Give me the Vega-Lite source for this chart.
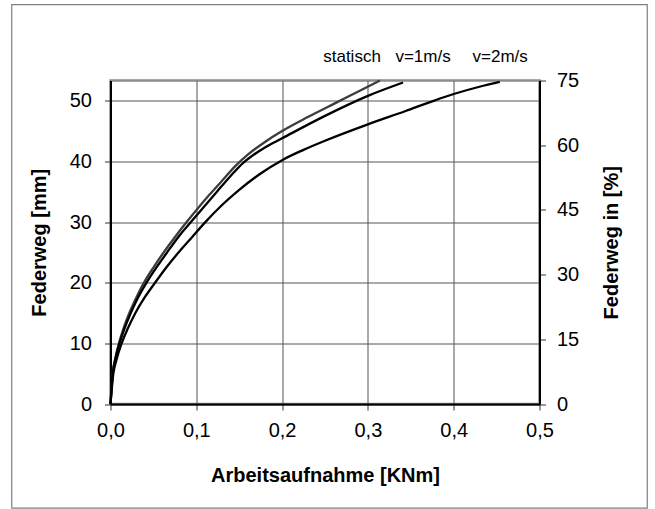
{
  "$schema": "https://vega.github.io/schema/vega-lite/v6.json",
  "autosize": {"type": "none"},
  "width": 429,
  "height": 323.5,
  "padding": {"left": 110.5, "top": 80.5, "right": 115.5, "bottom": 105},
  "background": "white",
  "config": {
    "font": "Liberation Sans",
    "view": {"stroke": "#8c8c8c", "strokeWidth": 2.5},
    "axis": {
      "labelFont": "Liberation Sans",
      "titleFont": "Liberation Sans",
      "labelFontSize": 20,
      "titleFontSize": 20,
      "labelColor": "black",
      "titleColor": "black",
      "titleFontWeight": "bold",
      "domainColor": "black",
      "domainWidth": 2,
      "tickColor": "#333333",
      "tickSize": 6,
      "tickWidth": 1,
      "gridColor": "#555555",
      "gridWidth": 1,
      "gridOpacity": 1,
      "labelFlush": false
    }
  },
  "layer": [
    {
      "layer": [
        {
          "data": {"values": [{"frame": "border"}]},
          "mark": {"type": "rect", "fill": null, "stroke": "#808080", "strokeWidth": 1.2, "clip": false},
          "encoding": {
            "x": {"datum": -0.1151, "type": "quantitative"},
            "x2": {"datum": 0.6256},
            "y": {"datum": 65.84, "type": "quantitative"},
            "y2": {"datum": -17.16}
          }
        },
        {
          "data": {"values": [
            {"Serie": "statisch", "x": 0, "y": 0},
            {"Serie": "statisch", "x": 0.0025, "y": 5},
            {"Serie": "statisch", "x": 0.006, "y": 7.8},
            {"Serie": "statisch", "x": 0.01, "y": 10.1},
            {"Serie": "statisch", "x": 0.015, "y": 12.4},
            {"Serie": "statisch", "x": 0.022, "y": 15},
            {"Serie": "statisch", "x": 0.03, "y": 17.5},
            {"Serie": "statisch", "x": 0.039, "y": 20},
            {"Serie": "statisch", "x": 0.05, "y": 22.5},
            {"Serie": "statisch", "x": 0.062, "y": 25},
            {"Serie": "statisch", "x": 0.075, "y": 27.5},
            {"Serie": "statisch", "x": 0.0887, "y": 30},
            {"Serie": "statisch", "x": 0.1, "y": 31.95},
            {"Serie": "statisch", "x": 0.116, "y": 34.6},
            {"Serie": "statisch", "x": 0.13, "y": 36.8},
            {"Serie": "statisch", "x": 0.146, "y": 39.3},
            {"Serie": "statisch", "x": 0.16, "y": 41.1},
            {"Serie": "statisch", "x": 0.18, "y": 43.2},
            {"Serie": "statisch", "x": 0.2, "y": 45},
            {"Serie": "statisch", "x": 0.23, "y": 47.3},
            {"Serie": "statisch", "x": 0.262, "y": 49.6},
            {"Serie": "statisch", "x": 0.29, "y": 51.6},
            {"Serie": "statisch", "x": 0.314, "y": 53.33},
            {"Serie": "v=1m/s", "x": 0, "y": 0},
            {"Serie": "v=1m/s", "x": 0.0026, "y": 5},
            {"Serie": "v=1m/s", "x": 0.006, "y": 7.6},
            {"Serie": "v=1m/s", "x": 0.0105, "y": 10},
            {"Serie": "v=1m/s", "x": 0.016, "y": 12.3},
            {"Serie": "v=1m/s", "x": 0.024, "y": 15.1},
            {"Serie": "v=1m/s", "x": 0.032, "y": 17.5},
            {"Serie": "v=1m/s", "x": 0.042, "y": 20},
            {"Serie": "v=1m/s", "x": 0.054, "y": 22.6},
            {"Serie": "v=1m/s", "x": 0.066, "y": 25},
            {"Serie": "v=1m/s", "x": 0.08, "y": 27.7},
            {"Serie": "v=1m/s", "x": 0.095, "y": 30.2},
            {"Serie": "v=1m/s", "x": 0.11, "y": 32.7},
            {"Serie": "v=1m/s", "x": 0.124, "y": 35},
            {"Serie": "v=1m/s", "x": 0.14, "y": 37.6},
            {"Serie": "v=1m/s", "x": 0.155, "y": 39.8},
            {"Serie": "v=1m/s", "x": 0.165, "y": 40.9},
            {"Serie": "v=1m/s", "x": 0.18, "y": 42.3},
            {"Serie": "v=1m/s", "x": 0.2, "y": 43.8},
            {"Serie": "v=1m/s", "x": 0.25, "y": 47.5},
            {"Serie": "v=1m/s", "x": 0.3, "y": 50.8},
            {"Serie": "v=1m/s", "x": 0.341, "y": 53},
            {"Serie": "v=2m/s", "x": 0, "y": 0},
            {"Serie": "v=2m/s", "x": 0.0033, "y": 5},
            {"Serie": "v=2m/s", "x": 0.007, "y": 7.3},
            {"Serie": "v=2m/s", "x": 0.013, "y": 10},
            {"Serie": "v=2m/s", "x": 0.02, "y": 12.4},
            {"Serie": "v=2m/s", "x": 0.029, "y": 15},
            {"Serie": "v=2m/s", "x": 0.04, "y": 17.6},
            {"Serie": "v=2m/s", "x": 0.052, "y": 20},
            {"Serie": "v=2m/s", "x": 0.065, "y": 22.5},
            {"Serie": "v=2m/s", "x": 0.08, "y": 25.1},
            {"Serie": "v=2m/s", "x": 0.095, "y": 27.5},
            {"Serie": "v=2m/s", "x": 0.11, "y": 29.9},
            {"Serie": "v=2m/s", "x": 0.13, "y": 32.8},
            {"Serie": "v=2m/s", "x": 0.15, "y": 35.3},
            {"Serie": "v=2m/s", "x": 0.175, "y": 38},
            {"Serie": "v=2m/s", "x": 0.2, "y": 40.2},
            {"Serie": "v=2m/s", "x": 0.225, "y": 41.9},
            {"Serie": "v=2m/s", "x": 0.25, "y": 43.4},
            {"Serie": "v=2m/s", "x": 0.3, "y": 46.1},
            {"Serie": "v=2m/s", "x": 0.344, "y": 48.3},
            {"Serie": "v=2m/s", "x": 0.375, "y": 49.9},
            {"Serie": "v=2m/s", "x": 0.4, "y": 51.1},
            {"Serie": "v=2m/s", "x": 0.43, "y": 52.3},
            {"Serie": "v=2m/s", "x": 0.4537, "y": 53.1}
          ]},
          "mark": {"type": "line", "strokeWidth": 2.3, "clip": false, "interpolate": "monotone"},
          "encoding": {
            "x": {
              "field": "x", "type": "quantitative",
              "scale": {"domain": [0, 0.5], "nice": false},
              "axis": {
                "title": "Arbeitsaufnahme [KNm]",
                "values": [0, 0.1, 0.2, 0.3, 0.4, 0.5],
                "labelExpr": "replace(format(datum.value, '.1f'), '.', ',')",
                "grid": true,
                "labelPadding": 10,
                "titlePadding": 25
              }
            },
            "y": {
              "field": "y", "type": "quantitative",
              "scale": {"domain": [0, 53.33], "nice": false},
              "axis": {
                "title": "Federweg [mm]",
                "values": [0, 10, 20, 30, 40, 50],
                "grid": true,
                "labelPadding": 13,
                "titlePadding": 20
              }
            },
            "color": {
              "field": "Serie", "type": "nominal",
              "scale": {"domain": ["statisch", "v=1m/s", "v=2m/s"], "range": ["#3c3c3c", "#000000", "#000000"]},
              "legend": null
            },
            "detail": {"field": "Serie"}
          }
        },
        {
          "data": {"values": [
            {"label": "statisch", "x": 0.2815},
            {"label": "v=1m/s", "x": 0.3643},
            {"label": "v=2m/s", "x": 0.4542}
          ]},
          "mark": {"type": "text", "fontSize": 17, "font": "Liberation Sans", "color": "black", "baseline": "alphabetic", "align": "center"},
          "encoding": {
            "x": {"field": "x", "type": "quantitative"},
            "y": {"datum": 56.3, "type": "quantitative"},
            "text": {"field": "label"}
          }
        }
      ]
    },
    {
      "data": {"values": [{"pct": 0}, {"pct": 75}]},
      "mark": {"type": "point", "opacity": 0},
      "encoding": {
        "y": {
          "field": "pct", "type": "quantitative",
          "scale": {"domain": [0, 75], "nice": false},
          "axis": {
            "orient": "right",
            "title": "Federweg in [%]",
            "titleAngle": 270,
            "values": [0, 15, 30, 45, 60, 75],
            "grid": false,
            "labelPadding": 11,
            "titlePadding": 43
          }
        }
      }
    }
  ],
  "resolve": {"scale": {"y": "independent"}}
}
